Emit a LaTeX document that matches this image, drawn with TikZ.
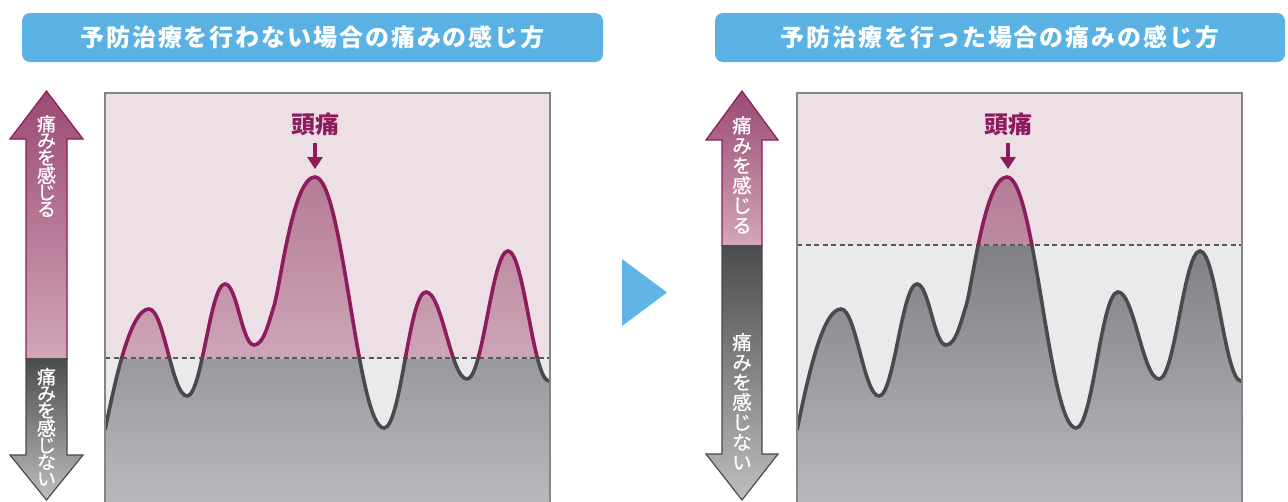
\documentclass[tikz,border=0pt]{standalone}
\usepackage{fontspec}
\newfontfamily\jp{Noto Sans CJK JP}
\newfontfamily\jpm{Noto Sans CJK JP}[FakeBold=0.6]
\usetikzlibrary{arrows.meta}
\definecolor{hdrblue}{HTML}{5AB1E4}
\definecolor{tri}{HTML}{60B5E6}
\definecolor{pbg}{HTML}{EDE0E5}
\definecolor{gbg}{HTML}{E9EAEC}
\definecolor{mag}{HTML}{8E1B5E}
\definecolor{dgray}{HTML}{4A4A4C}
\definecolor{bordergray}{HTML}{858588}
\definecolor{dashgray}{HTML}{58585A}
\definecolor{pinkTop}{HTML}{B57B95}
\definecolor{pinkBot}{HTML}{CDA6B6}
\definecolor{grayTop}{HTML}{707175}
\definecolor{grayBot}{HTML}{B8B9BC}
\definecolor{apinkTop}{HTML}{9A4A72}
\definecolor{apinkBot}{HTML}{D2A6B8}
\definecolor{agrayTop}{HTML}{4A4B4D}
\definecolor{agrayBot}{HTML}{BEBEC1}

\def\trkloop#1{\ifx#1\relax\else#1\kern\trkamt\expandafter\trkloop\fi}
\newcommand\trk[2]{\def\trkamt{#1}\trkloop#2\relax\kern-#1}

\def\curvepath{(105,430) .. controls +(10,-48) and +(-19,0) .. (149,309)
 .. controls +(15,0) and +(-15,0) .. (187,396)
 .. controls +(15,0) and +(-15,0) .. (225,284)
 .. controls +(12,0) and +(-12,0) .. (254,345)
 .. controls +(10,0) and +(-5,15) .. (274,306)
 .. controls +(7,-24) and +(-22,0) .. (315,177)
 .. controls +(28,0) and +(-27,0) .. (384,428)
 .. controls +(17,0) and +(-17,0) .. (426,292)
 .. controls +(16,0) and +(-16,0) .. (467,379)
 .. controls +(16,0) and +(-16,0) .. (508,251)
 .. controls +(16,0) and +(-16,0) .. (549,381) -- (560,381)}

\tikzset{
  hdr/.style={fill=hdrblue, rounded corners=8pt, minimum height=49pt, inner sep=0pt,
    text=white, font=\jp\bfseries\fontsize{24}{24}\selectfont},
  painlbl/.style={inner sep=0pt, text=mag, font=\jp\bfseries\fontsize{24}{24}\selectfont},
  pointer/.style={mag, line width=4.5pt, -{Triangle[width=15pt,length=12pt]}},
  vtxtL/.style={inner sep=0pt, align=center, text=white, font=\jpm\fontsize{19}{16.8}\selectfont},
  vtxtR/.style={inner sep=0pt, align=center, text=white, font=\jpm\fontsize{19.5}{20}\selectfont},
  dashline/.style={dashgray, line width=1.8pt, dash pattern=on 5pt off 3.5pt},
  curvetop/.style={mag, line width=3.6pt},
  curvebot/.style={dgray, line width=3.6pt},
  boxline/.style={bordergray, line width=2.4pt},
}

\newcommand\Panel[2]{%
\begin{scope}[xshift=#1]
 \fill[pbg] (105,93) rectangle (550,#2);
 \fill[gbg] (105,#2) rectangle (550,510);
 \begin{scope}
  \clip (105,93) rectangle (550,510);
  \begin{scope}
   \clip \curvepath -- (560,520) -- (100,520) -- cycle;
   \shade[top color=grayTop,bottom color=grayBot] (105,177) rectangle (550,501);
   \clip (100,90) rectangle (560,#2);
   \shade[top color=pinkTop,bottom color=pinkBot] (105,177) rectangle (550,358);
  \end{scope}
  \draw[dashline] (105,#2) -- (550,#2);
  \begin{scope}\clip (100,90) rectangle (560,#2); \draw[curvetop] \curvepath; \end{scope}
  \begin{scope}\clip (100,#2) rectangle (560,520); \draw[curvebot] \curvepath; \end{scope}
 \end{scope}
 \draw[boxline] (105,510) -- (105,93) -- (550,93) -- (550,510);
\end{scope}}

\newcommand\PainArrow[6]{%
 \def\apath{(#1,91) -- (#1+#5,#3) -- (#1+#6,#3) -- (#1+#6,#4) -- (#1+#5,#4) -- (#1,500) -- (#1-#5,#4) -- (#1-#6,#4) -- (#1-#6,#3) -- (#1-#5,#3) -- cycle}%
 \begin{scope}
  \clip \apath;
  \shade[top color=apinkTop,bottom color=apinkBot] (#1-40,91) rectangle (#1+40,#2);
  \shade[top color=agrayTop,bottom color=agrayBot] (#1-40,#2) rectangle (#1+40,500);
 \end{scope}
 \begin{scope}\clip (#1-45,85) rectangle (#1+45,#2); \draw[mag, line width=1.2pt] \apath; \end{scope}
 \begin{scope}\clip (#1-45,#2) rectangle (#1+45,505); \draw[dgray, line width=1.2pt] \apath; \end{scope}
}

\begin{document}
\begin{tikzpicture}[x=1pt,y=-1pt]
\useasboundingbox (0,0) rectangle (1288,501);
\clip (0,0) rectangle (1288,501);
\fill[white] (0,0) rectangle (1288,501);

% headers
\node[hdr, minimum width=581pt] (hL) at (312.5,37.5) {\trk{1.9pt}{予防治療を行わない場合の痛みの感じ方}};
\node[hdr, minimum width=570pt] (hR) at (1000,37.5) {\trk{1.9pt}{予防治療を行った場合の痛みの感じ方}};

% panels
\Panel{0pt}{358}
\Panel{692pt}{245}

% side arrows
\PainArrow{46.5}{358}{139}{455}{36.5}{20.5}
\PainArrow{742}{245}{140}{454}{36}{20}
\node[vtxtL] (tL1) at (46.5,166) {痛\\み\\を\\感\\じ\\る};
\node[vtxtL] (tL2) at (46.5,427) {痛\\み\\を\\感\\じ\\な\\い};
\node[vtxtR] (tR1) at (742,175) {痛\\み\\を\\感\\じ\\る};
\node[vtxtR] (tR2) at (742,401.5) {痛\\み\\を\\感\\じ\\な\\い};

% headache labels
\node[painlbl] (lblL) at (315,124) {頭痛};
\coordinate (aL) at (315,143);
\coordinate (tipL) at (315,169);
\draw[pointer] (aL) -- (tipL);
\node[painlbl] (lblR) at (1008,124) {頭痛};
\coordinate (aR) at (1008,143);
\coordinate (tipR) at (1008,169);
\draw[pointer] (aR) -- (tipR);

% middle triangle
\fill[tri] (622,259) -- (667,292.5) -- (622,326) -- cycle;
\end{tikzpicture}
\end{document}
